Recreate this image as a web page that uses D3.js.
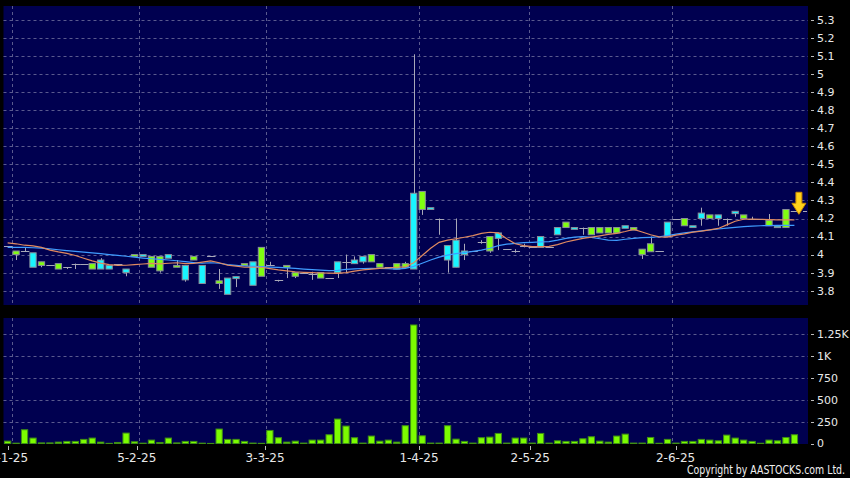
<!DOCTYPE html>
<html><head><meta charset="utf-8">
<script src="https://cdn.jsdelivr.net/npm/d3@7"></script>
<style>html,body{margin:0;padding:0;background:#000;} svg{display:block;}</style>
</head><body><svg id="c" width="850" height="478"></svg>
<script>
const opens  = [4.05,4.02,4.02,3.93,3.96,3.94,3.95,3.93,3.95,3.95,3.95,3.92,3.92,3.95,3.90,4.00,3.99,3.99,3.99,3.98,
                3.94,3.86,3.99,3.84,3.99,3.855,3.78,3.867,3.95,3.83,4.04,3.94,3.86,3.94,3.90,3.90,3.89,3.90,3.87,3.90,
                3.96,3.95,3.96,4.00,3.95,3.93,3.95,3.95,3.92,4.35,4.25,4.20,3.97,3.93,4.00,4.02,4.07,4.10,4.09,4.03,
                4.02,4.05,4.04,4.04,4.04,4.11,4.18,4.14,4.15,4.15,4.15,4.15,4.15,4.146,4.15,4.03,4.06,4.02,4.10,4.20,
                4.20,4.15,4.20,4.22,4.20,4.20,4.227,4.22,4.196,4.196,4.19,4.15,4.25,4.24];
const highs  = [4.05,4.02,4.04,4.01,3.96,3.94,3.95,3.93,3.95,3.95,3.95,3.98,3.94,3.95,3.92,4.00,4.00,3.99,3.99,4.00,
                3.97,3.94,3.99,3.94,3.99,3.92,3.87,3.878,3.95,3.96,4.04,3.96,3.86,3.94,3.90,3.90,3.905,3.90,3.87,3.96,
                4.00,3.99,3.99,4.00,3.95,3.93,3.95,3.96,5.11,4.35,4.26,4.20,4.05,4.20,4.06,4.02,4.08,4.10,4.12,4.03,
                4.03,4.06,4.04,4.10,4.04,4.15,4.18,4.15,4.15,4.15,4.15,4.15,4.15,4.16,4.15,4.03,4.10,4.02,4.18,4.20,
                4.20,4.16,4.26,4.22,4.22,4.20,4.24,4.22,4.21,4.196,4.225,4.158,4.25,4.24];
const lows   = [4.05,3.97,4.02,3.93,3.93,3.94,3.92,3.92,3.92,3.95,3.92,3.92,3.92,3.95,3.88,3.99,3.99,3.93,3.90,3.98,
                3.93,3.85,3.97,3.84,3.99,3.81,3.78,3.82,3.94,3.83,3.88,3.94,3.85,3.87,3.87,3.90,3.86,3.87,3.87,3.87,
                3.90,3.95,3.95,3.96,3.93,3.93,3.92,3.93,3.92,4.22,4.25,4.11,3.90,3.93,3.97,4.02,4.06,4.01,4.025,4.03,
                4.01,4.04,4.04,4.04,4.04,4.11,4.15,4.14,4.11,4.11,4.12,4.12,4.12,4.146,4.136,3.976,4.016,4.02,4.10,4.20,
                4.16,4.15,4.16,4.20,4.16,4.16,4.21,4.20,4.196,4.196,4.16,4.15,4.15,4.24];
const closes = [4.05,4.00,4.02,4.01,3.94,3.94,3.92,3.93,3.95,3.95,3.92,3.97,3.94,3.95,3.92,3.99,4.00,3.93,3.91,4.00,
                3.93,3.94,3.97,3.94,3.99,3.84,3.87,3.878,3.94,3.96,3.88,3.94,3.86,3.93,3.88,3.90,3.89,3.87,3.87,3.96,
                3.96,3.97,3.99,3.96,3.93,3.93,3.92,3.93,4.34,4.25,4.26,4.20,4.05,4.08,4.02,4.02,4.07,4.02,4.12,4.03,
                4.02,4.05,4.04,4.10,4.04,4.15,4.15,4.15,4.15,4.11,4.12,4.12,4.12,4.16,4.136,4.00,4.016,4.02,4.18,4.20,
                4.16,4.16,4.23,4.20,4.22,4.20,4.24,4.20,4.196,4.196,4.16,4.158,4.15,4.24];
const volumes = [28,5,158,63,8,8,17,25,25,48,63,17,3,13,120,21,5,40,13,63,
                 8,25,25,5,2,166,48,48,25,6,3,150,67,17,28,6,40,40,101,280,
                 200,67,6,86,28,40,17,204,1353,89,6,6,204,51,25,6,67,74,116,6,
                 63,63,6,116,6,32,25,25,55,78,28,17,86,108,6,6,70,4,48,6,
                 25,25,48,40,32,97,63,40,25,4,40,32,70,101];
const maShort = [4.065,4.06,4.052,4.048,4.04,4.025,4.015,4.007,3.995,3.98,3.965,3.953,3.944,3.94,3.941,3.944,3.948,3.951,3.949,3.952,
                 3.955,3.95,3.951,3.958,3.965,3.955,3.942,3.936,3.93,3.93,3.93,3.922,3.915,3.91,3.905,3.902,3.90,3.898,3.897,3.896,
                 3.90,3.908,3.915,3.92,3.924,3.927,3.93,3.932,3.955,3.995,4.035,4.068,4.08,4.088,4.096,4.105,4.118,4.124,4.12,4.088,
                 4.06,4.05,4.044,4.044,4.046,4.055,4.07,4.08,4.09,4.097,4.104,4.112,4.118,4.128,4.14,4.125,4.11,4.098,4.097,4.108,
                 4.115,4.125,4.13,4.137,4.145,4.165,4.185,4.196,4.197,4.196,4.194,4.192,4.192,4.192];
const maLong  = [4.04,4.04,4.04,4.038,4.036,4.032,4.027,4.022,4.018,4.014,4.01,4.005,4.0,3.996,3.991,3.986,3.981,3.977,3.974,3.97,
                 3.966,3.961,3.956,3.952,3.955,3.952,3.944,3.94,3.937,3.935,3.933,3.931,3.929,3.927,3.924,3.92,3.917,3.914,3.911,3.913,
                 3.918,3.921,3.923,3.924,3.923,3.922,3.92,3.924,3.935,3.952,3.97,3.986,3.997,4.005,4.011,4.018,4.025,4.035,4.05,4.058,
                 4.062,4.066,4.068,4.07,4.072,4.08,4.09,4.097,4.10,4.095,4.088,4.08,4.079,4.085,4.09,4.094,4.096,4.099,4.105,4.113,
                 4.12,4.126,4.132,4.137,4.142,4.147,4.151,4.155,4.158,4.16,4.161,4.162,4.162,4.162];
const priceTicks = [3.8,3.9,4.0,4.1,4.2,4.3,4.4,4.5,4.6,4.7,4.8,4.9,5.0,5.1,5.2,5.3];
const priceTickLabels = ["3.8","3.9","4","4.1","4.2","4.3","4.4","4.5","4.6","4.7","4.8","4.9","5","5.1","5.2","5.3"];
const volTicks = [0,250,500,750,1000,1250];
const volTickLabels = ["0","250","500","750","1K","1.25K"];
const dateTickIndex = [1,16,31,49,62,79];
const dateTickLabels = ["2-1-25","5-2-25","3-3-25","1-4-25","2-5-25","2-6-25"];

const svg = d3.select("#c");
const n = closes.length;
const L = 3.5, R = 808;
const mainTop = 6, mainBot = 305, volTop = 318, volBot = 444;
const x = d3.scaleLinear().domain([0, n]).range([4, 4 + 8.46 * n]);
const xLab = d3.scaleLinear().domain([0, n]).range([-0.1, -0.1 + 8.553 * n]);
const step = x(1) - x(0);
const bw = step * 0.86;
const y = d3.scaleLinear().domain([3.8, 5.3]).range([290.7, 20]);
const yv = d3.scaleLinear().domain([0, 1250]).range([443.6, 334]);

const PANEL = "#000050", GRID = "#5a5a8e";
const GREEN = "#80ff10", CYAN = "#19f5ff", GREY = "#a8a8b8";
const FONT = "'DejaVu Sans', Verdana, sans-serif";

svg.append("rect").attr("width", 850).attr("height", 478).attr("fill", "#000");
svg.append("rect").attr("x", L).attr("y", mainTop).attr("width", R - L).attr("height", mainBot - mainTop).attr("fill", PANEL);
svg.append("rect").attr("x", L).attr("y", volTop).attr("width", R - L).attr("height", volBot - volTop).attr("fill", PANEL);

const defs = svg.append("defs");
defs.append("clipPath").attr("id", "cm").append("rect").attr("x", L).attr("y", mainTop).attr("width", R - L).attr("height", mainBot - mainTop);
defs.append("clipPath").attr("id", "cv").append("rect").attr("x", L).attr("y", volTop).attr("width", R - L).attr("height", volBot - volTop);

// grids
const gm = svg.append("g");
gm.selectAll("line.h").data(priceTicks).join("line")
  .attr("x1", L).attr("x2", R).attr("y1", d => Math.round(y(d)) + 0.5).attr("y2", d => Math.round(y(d)) + 0.5)
  .attr("stroke", GRID).attr("stroke-dasharray", "3,3");
gm.selectAll("line.v").data(dateTickIndex).join("line")
  .attr("x1", d => Math.round(x(d)) + 0.5).attr("x2", d => Math.round(x(d)) + 0.5).attr("y1", mainTop).attr("y2", mainBot)
  .attr("stroke", GRID).attr("stroke-dasharray", "3,3");
const gvg = svg.append("g");
gvg.selectAll("line.h").data(volTicks.slice(1)).join("line")
  .attr("x1", L).attr("x2", R).attr("y1", d => Math.round(yv(d)) + 0.5).attr("y2", d => Math.round(yv(d)) + 0.5)
  .attr("stroke", GRID).attr("stroke-dasharray", "3,3");
gvg.selectAll("line.v").data(dateTickIndex).join("line")
  .attr("x1", d => Math.round(x(d)) + 0.5).attr("x2", d => Math.round(x(d)) + 0.5).attr("y1", volTop).attr("y2", volBot)
  .attr("stroke", GRID).attr("stroke-dasharray", "3,3");

// candles
const data = d3.range(n).map(i => ({i, o: opens[i], h: highs[i], l: lows[i], c: closes[i], v: volumes[i]}));
const gc = svg.append("g").attr("clip-path", "url(#cm)");
data.forEach(d => {
  const cx = x(d.i) + bw / 2;
  if (d.h > Math.max(d.o, d.c) || d.l < Math.min(d.o, d.c)) {
    gc.append("line").attr("x1", Math.round(cx) + 0.5).attr("x2", Math.round(cx) + 0.5)
      .attr("y1", y(d.h)).attr("y2", y(d.l)).attr("stroke", GREY).attr("stroke-width", 1);
  }
  if (d.o === d.c) {
    gc.append("line").attr("x1", x(d.i)).attr("x2", x(d.i + 1))
      .attr("y1", Math.round(y(d.c)) + 0.5).attr("y2", Math.round(y(d.c)) + 0.5)
      .attr("stroke", GREY).attr("stroke-width", 1);
  } else {
    const top = y(Math.max(d.o, d.c)), bot = y(Math.min(d.o, d.c));
    gc.append("rect").attr("x", x(d.i) + 0.5).attr("y", top).attr("width", bw - 1).attr("height", Math.max(1.5, bot - top))
      .attr("fill", d.c > d.o ? CYAN : GREEN).attr("stroke", "#8a8f9a").attr("stroke-width", 1);
  }
});

// moving averages
const line = d3.line().x((d, i) => x(i) + bw / 2).y(d => y(d));
gc.append("path").datum(maLong).attr("d", line).attr("fill", "none").attr("stroke", "#3f9cff").attr("stroke-width", 1.2);
gc.append("path").datum(maShort).attr("d", line).attr("fill", "none").attr("stroke", "#e08a60").attr("stroke-width", 1.2);

// last price marker
const last = data[n - 1];
svg.append("line").attr("x1", R - 5).attr("x2", R - 1).attr("y1", Math.round(y(last.c)) + 0.5).attr("y2", Math.round(y(last.c)) + 0.5)
  .attr("stroke", GREY);

// arrow over last candle
const ax = x(last.i) + bw / 2 + 4.5, ay = y(last.h) + 3;
svg.append("path")
  .attr("d", `M${ax - 3},${ay - 22} L${ax + 3},${ay - 22} L${ax + 3},${ay - 11} L${ax + 7},${ay - 11} L${ax},${ay} L${ax - 7},${ay - 11} L${ax - 3},${ay - 11} Z`)
  .attr("fill", "#ffd21a").attr("stroke", "#c98a00").attr("stroke-width", 1);

// volume bars
const gv = svg.append("g").attr("clip-path", "url(#cv)");
gv.selectAll("rect").data(data).join("rect")
  .attr("x", d => x(d.i) + 0.5).attr("y", d => yv(d.v)).attr("width", bw - 1).attr("height", d => Math.max(0.8, yv(0) - yv(d.v)))
  .attr("fill", "#7cfc00").attr("stroke", "#3f8f14").attr("stroke-width", 1);

// right axes
const ga = svg.append("g").attr("font-family", FONT).attr("font-size", 11).attr("fill", "#e8e8e8");
priceTicks.forEach((t, k) => {
  ga.append("line").attr("x1", 811).attr("x2", 814).attr("y1", Math.round(y(t)) + 0.5).attr("y2", Math.round(y(t)) + 0.5).attr("stroke", "#bbb");
  ga.append("text").attr("x", 817).attr("y", y(t)).attr("dy", "0.35em").text(priceTickLabels[k]);
});
volTicks.forEach((t, k) => {
  ga.append("line").attr("x1", 811).attr("x2", 814).attr("y1", Math.round(yv(t)) + 0.5).attr("y2", Math.round(yv(t)) + 0.5).attr("stroke", "#bbb");
  ga.append("text").attr("x", 817).attr("y", yv(t)).attr("dy", "0.35em").text(volTickLabels[k]);
});

// date axis
const gd = svg.append("g").attr("font-family", FONT).attr("font-size", 12).attr("fill", "#e8e8e8");
dateTickIndex.forEach((t, k) => {
  const tx = Math.round(xLab(t)) + 0.5;
  gd.append("line").attr("x1", tx).attr("x2", tx).attr("y1", 446).attr("y2", 450).attr("stroke", "#bbb");
  gd.append("text").attr("x", xLab(t)).attr("y", 462).attr("text-anchor", "middle").text(dateTickLabels[k]);
});
svg.append("text").attr("x", 845).attr("y", 474).attr("text-anchor", "end")
  .attr("font-family", FONT).attr("font-size", 11.5).attr("fill", "#f0f0f0")
  .attr("textLength", 158).attr("lengthAdjust", "spacingAndGlyphs")
  .text("Copyright by AASTOCKS.com Ltd.");
</script></body></html>
